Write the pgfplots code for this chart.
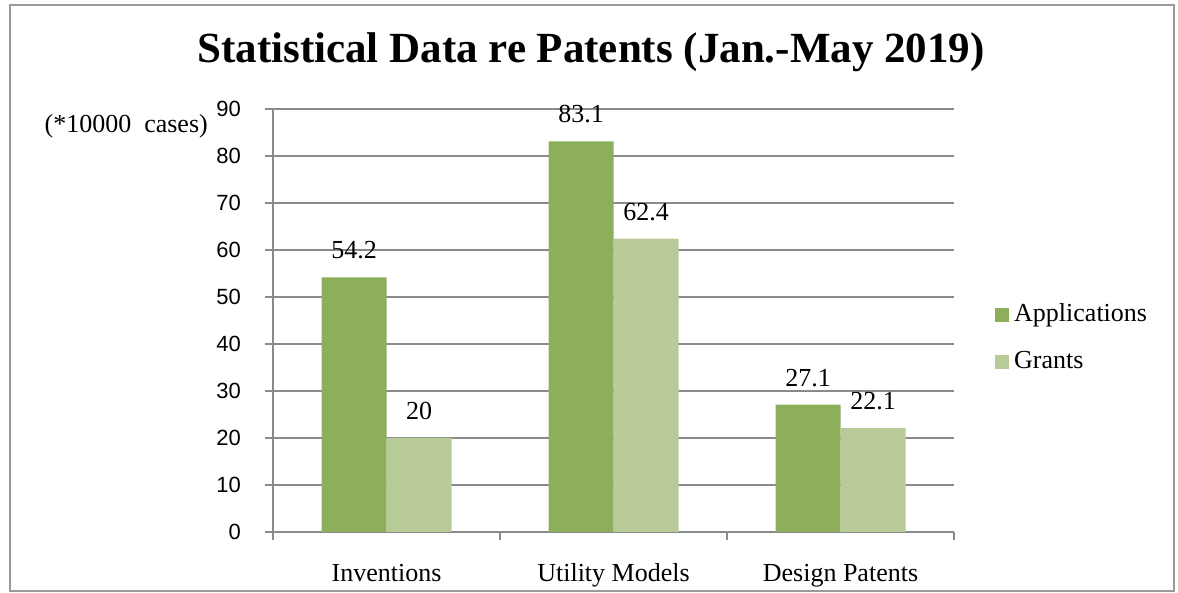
\documentclass[border=0pt]{standalone}
\usepackage{pgfplots}
\pgfplotsset{compat=1.18}
\usepackage{fontspec}
\setmainfont{Liberation Serif}
\setsansfont{Liberation Sans}
\definecolor{appl}{HTML}{8DAF5C}
\definecolor{grant}{HTML}{B7CA97}
\definecolor{gridgray}{HTML}{8A8A8A}
\definecolor{framegray}{HTML}{9A9A9A}
\begin{document}
\begin{tikzpicture}
\useasboundingbox (0,0) rectangle (1178pt,593pt);
\draw[framegray, line width=1.5pt] (10pt,2pt) rectangle (1174pt,588pt);
\node[font=\bfseries\fontsize{43}{43}\selectfont, anchor=base] at (591pt,530pt) {Statistical Data re Patents (Jan.-May 2019)};
\node[font=\fontsize{26}{26}\selectfont, anchor=base east, inner sep=0pt] at (208pt,460pt) {(*10000\ \ cases)};
\begin{axis}[
  at={(273pt,61pt)}, anchor=south west,
  width=681pt, height=423pt, scale only axis,
  xmin=0, xmax=3, ymin=0, ymax=90,
  ytick={0,10,...,90},
  xtick={0.5,1.5,2.5},
  xticklabels={Inventions, Utility Models, Design Patents},
  major x tick style={draw=none},
  minor xtick={0,1,2,3},
  minor x tick style={draw=gridgray, line width=1.5pt},
  minor tick length=8pt,
  axis x line*=bottom, axis y line*=left,
  axis line style={gridgray, line width=1.5pt, -},
  ytick style={draw=gridgray, line width=1.5pt},
  tick align=outside, major tick length=8pt,
  ymajorgrids, grid style={gridgray, line width=1.5pt},
  /pgf/number format/assume math mode=true,
  yticklabel style={font=\sffamily\fontsize{22}{22}\selectfont, anchor=east, inner sep=0pt, xshift=-24pt},
  xticklabel style={font=\fontsize{26}{26}\selectfont, anchor=base, inner sep=0pt, yshift=-42pt},
  ybar=0pt, bar width=65pt,
  nodes near coords,
  nodes near coords style={font=\fontsize{26}{26}\selectfont, inner sep=0pt, yshift=18pt},
  legend style={at={(1.0602,0.457)}, anchor=west, draw=none, fill=none,
    font=\fontsize{26}{26}\selectfont, row sep=23pt, column sep=5pt, inner sep=0pt,
    nodes={inner sep=0pt, text height=18pt, text depth=6pt}},
  legend cell align=left,
  legend image code/.code={\fill[#1] (0pt,-7pt) rectangle (14pt,7pt);},
]
\addplot[fill=appl, draw=none] coordinates {(0.5,54.2) (1.5,83.1) (2.5,27.1)};
\addplot[fill=grant, draw=none] coordinates {(0.5,20) (1.5,62.4) (2.5,22.1)};
\legend{Applications, Grants}
\end{axis}
\end{tikzpicture}
\end{document}
